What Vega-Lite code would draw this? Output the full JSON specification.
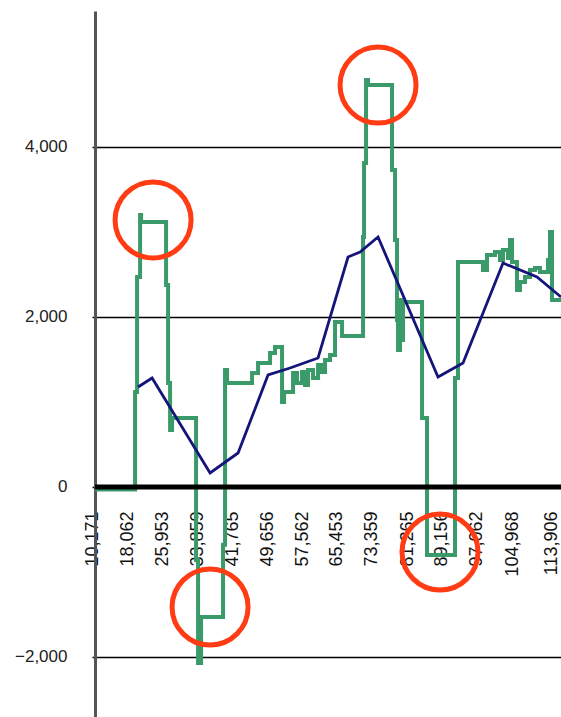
{
  "$schema": "https://vega.github.io/schema/vega-lite/v6.json",
  "autosize": {"type": "none"},
  "width": 469,
  "height": 706,
  "padding": {"left": 92, "top": 11, "right": 0, "bottom": 0},
  "background": "white",
  "config": {
    "view": {"stroke": null},
    "axisX": {"labelOverlap": false, "labelBound": false, "labelFlush": false, "labelSeparation": -40}
  },
  "datasets": {
    "green": [
      {"x": 10848, "v": -30}, {"x": 19876, "v": 1118}, {"x": 20327, "v": 2470}, {"x": 21005, "v": 3200},
      {"x": 21230, "v": 3118}, {"x": 26873, "v": 2376}, {"x": 27324, "v": 1224}, {"x": 27776, "v": 670},
      {"x": 28227, "v": 812}, {"x": 33644, "v": -860}, {"x": 34095, "v": -2070}, {"x": 34772, "v": -1530},
      {"x": 39738, "v": -680}, {"x": 40189, "v": 1376}, {"x": 40640, "v": 1224}, {"x": 46283, "v": 1341},
      {"x": 47637, "v": 1459}, {"x": 50346, "v": 1576}, {"x": 51474, "v": 1647}, {"x": 53054, "v": 1000},
      {"x": 53506, "v": 1118}, {"x": 55537, "v": 1341}, {"x": 56440, "v": 1224}, {"x": 57568, "v": 1353},
      {"x": 58245, "v": 1200}, {"x": 58922, "v": 1376}, {"x": 60051, "v": 1282}, {"x": 61179, "v": 1435},
      {"x": 62082, "v": 1353}, {"x": 62759, "v": 1494}, {"x": 63887, "v": 1553}, {"x": 65016, "v": 1941},
      {"x": 66596, "v": 1776}, {"x": 71338, "v": 2941}, {"x": 71564, "v": 3812}, {"x": 72015, "v": 4788},
      {"x": 72467, "v": 4729}, {"x": 77883, "v": 3729}, {"x": 78559, "v": 2906}, {"x": 79011, "v": 1965},
      {"x": 79237, "v": 1612}, {"x": 79689, "v": 2200}, {"x": 79914, "v": 1729}, {"x": 80366, "v": 2176},
      {"x": 84654, "v": 812}, {"x": 85780, "v": -800}, {"x": 92100, "v": 1282}, {"x": 92777, "v": 2647},
      {"x": 98420, "v": 2553}, {"x": 99322, "v": 2729}, {"x": 101128, "v": 2765}, {"x": 102257, "v": 2670},
      {"x": 102935, "v": 2788}, {"x": 104063, "v": 2694}, {"x": 104515, "v": 2906}, {"x": 104966, "v": 2647},
      {"x": 106095, "v": 2318}, {"x": 106772, "v": 2412}, {"x": 107901, "v": 2470}, {"x": 109029, "v": 2553},
      {"x": 110158, "v": 2576}, {"x": 111287, "v": 2529}, {"x": 113093, "v": 2670}, {"x": 113544, "v": 3000},
      {"x": 113995, "v": 2200}, {"x": 116026, "v": 2200}
    ],
    "navy": [
      {"x": 20553, "v": 1176}, {"x": 23713, "v": 1282}, {"x": 36804, "v": 165}, {"x": 43123, "v": 400},
      {"x": 49894, "v": 1318}, {"x": 54860, "v": 1400}, {"x": 61179, "v": 1518}, {"x": 67950, "v": 2706},
      {"x": 70661, "v": 2765}, {"x": 74724, "v": 2941}, {"x": 88263, "v": 1294}, {"x": 93906, "v": 1459},
      {"x": 102935, "v": 2635}, {"x": 110609, "v": 2470}, {"x": 116026, "v": 2235}
    ],
    "circles": [
      {"x": 23939, "v": 3141}, {"x": 74724, "v": 4729}, {"x": 36804, "v": -1412}, {"x": 88714, "v": -765}
    ],
    "zero": [{"x": 10848, "v": 0}, {"x": 116026, "v": 0}]
  },
  "encoding": {
    "x": {
      "field": "x", "type": "quantitative",
      "scale": {"domain": [10150, 116026], "nice": false, "zero": false},
      "axis": {
        "title": null, "domain": false, "ticks": false, "grid": false,
        "offset": -230, "labelPadding": 24,
        "values": [10171, 18062, 25953, 33859, 41765, 49656, 57562, 65453, 73359, 81265, 89156, 97062, 104968, 113906],
        "format": ",.0f", "labelAngle": -90, "labelAlign": "right", "labelBaseline": "middle",
        "labelFlush": false, "labelOverlap": false, "labelBound": false, "labelSeparation": -40,
        "labelFont": "Liberation Sans", "labelFontSize": 18, "labelColor": "#111"
      }
    },
    "y": {
      "field": "v", "type": "quantitative",
      "scale": {"domain": [-2706, 5600], "nice": false, "zero": false},
      "axis": {
        "title": null, "values": [-2000, 0, 2000, 4000], "format": ",.0f",
        "offset": -3,
        "domainColor": "#555", "domainWidth": 3, "ticks": false,
        "grid": true, "gridColor": "#000", "gridWidth": 1.3, "gridOpacity": 1,
        "labelPadding": 28, "labelFont": "Liberation Sans", "labelFontSize": 17, "labelColor": "#222"
      }
    }
  },
  "layer": [
    {
      "data": {"name": "green"},
      "mark": {"type": "line", "interpolate": "step-after", "color": "#3a9a6a", "strokeWidth": 4, "clip": true}
    },
    {
      "data": {"name": "navy"},
      "mark": {"type": "line", "color": "#14147a", "strokeWidth": 2.8}
    },
    {
      "data": {"name": "zero"},
      "mark": {"type": "line", "color": "#000", "strokeWidth": 5, "strokeCap": "butt"}
    },
    {
      "data": {"name": "circles"},
      "mark": {"type": "point", "shape": "circle", "filled": false, "stroke": "#ff3c14", "strokeWidth": 5, "size": 5776, "opacity": 1}
    }
  ]
}
